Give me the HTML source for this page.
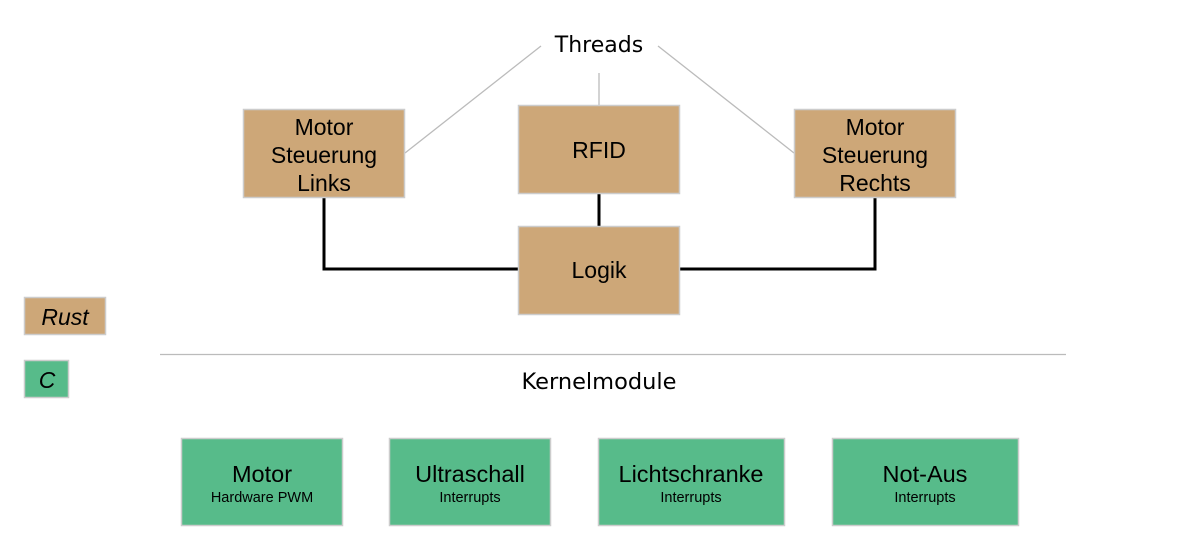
<!DOCTYPE html>
<html><head><meta charset="utf-8"><style>
html,body{margin:0;padding:0;background:#fff;width:1196px;height:550px;overflow:hidden}
svg text{font-family:"Liberation Sans",sans-serif;fill:#000}
</style></head><body>
<svg width="1196" height="550" viewBox="0 0 1196 550" xmlns="http://www.w3.org/2000/svg">
<g stroke="#bbb" stroke-width="1.3" fill="none">
<line x1="405" y1="153" x2="541" y2="46"/>
<line x1="599" y1="73" x2="599" y2="105"/>
<line x1="658" y1="46" x2="794" y2="153"/>
<line x1="160" y1="354.5" x2="1066" y2="354.5"/>
</g>
<g stroke="#000" stroke-width="3" fill="none">
<polyline points="324,197 324,269 518,269"/>
<polyline points="875,197 875,269 680,269"/>
<line x1="599" y1="193" x2="599" y2="226"/>
</g>
<g fill="#cda778" stroke="#ccc" stroke-width="1.5">
<rect x="243.5" y="109.5" width="161" height="88"/>
<rect x="518.5" y="105.5" width="161" height="88"/>
<rect x="794.5" y="109.5" width="161" height="88"/>
<rect x="518.5" y="226.5" width="161" height="88"/>
<rect x="24.5" y="297.5" width="81" height="37"/>
</g>
<g fill="#57bb8a" stroke="#ccc" stroke-width="1.5">
<rect x="24.5" y="360.5" width="44" height="37"/>
<rect x="181.5" y="438.5" width="161" height="87"/>
<rect x="389.5" y="438.5" width="161" height="87"/>
<rect x="598.5" y="438.5" width="186" height="87"/>
<rect x="832.5" y="438.5" width="186" height="87"/>
</g>
<g font-size="23" text-anchor="middle">
<text x="324" y="135">Motor</text><text x="324" y="163">Steuerung</text><text x="324" y="191">Links</text>
<text x="599" y="158">RFID</text>
<text x="875" y="135">Motor</text><text x="875" y="163">Steuerung</text><text x="875" y="191">Rechts</text>
<text x="599" y="278">Logik</text>
<text x="65" y="325" font-style="italic">Rust</text>
<text x="47" y="388" font-style="italic">C</text>
</g>
<g font-size="23.5" text-anchor="middle">
<text x="262" y="482">Motor</text>
<text x="470" y="482">Ultraschall</text>
<text x="691" y="482">Lichtschranke</text>
<text x="925" y="482">Not-Aus</text>
</g>
<g font-size="14.5" text-anchor="middle">
<text x="262" y="502">Hardware PWM</text>
<text x="470" y="502">Interrupts</text>
<text x="691" y="502">Interrupts</text>
<text x="925" y="502">Interrupts</text>
</g>
<g text-anchor="middle">
<text x="599" y="52" font-size="22" style="font-family:'DejaVu Sans',sans-serif">Threads</text>
<text x="599" y="389" font-size="22.5" style="font-family:'DejaVu Sans',sans-serif">Kernelmodule</text>
</g>
</svg>
</body></html>
